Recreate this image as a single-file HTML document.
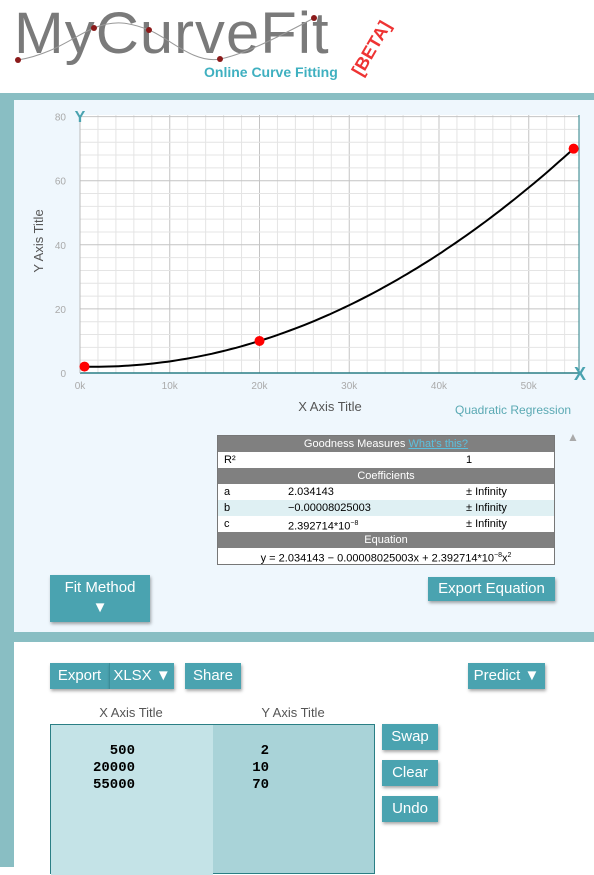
<!DOCTYPE html>
<html><head><meta charset="utf-8"><style>
*{box-sizing:border-box;margin:0;padding:0}
body{width:594px;height:867px;overflow:hidden;background:#fff;font-family:"Liberation Sans",sans-serif;position:relative}
.abs{position:absolute}
.btn{position:absolute;background:#4aa3b0;color:#fff;font-size:15px;text-align:center;box-shadow:1px 2px 3px rgba(0,0,0,.35)}
.tbl{position:absolute;left:217px;top:435px;width:338px;border:1px solid #777;font-size:11px;background:#fff}
.tbl div{height:16px;line-height:16px;position:relative}
.hd{background:#808080;color:#fff;text-align:center}
.c1{position:absolute;left:70px}.c2{position:absolute;left:248px}
</style></head><body>
<div class="abs" style="left:14px;top:4px;width:400px;height:88px">
<div class="abs" style="left:0;top:-4px;font-size:58px;color:#7a7a7a;letter-spacing:1px;transform:scaleX(1.03);transform-origin:left">MyCurveFit</div>
<svg class="abs" style="left:0;top:0" width="400" height="88"><path d="M4,56 C40,50 60,32 80,24 S115,18 135,26 S180,60 206,55 S270,30 300,14" fill="none" stroke="#999" stroke-width="1"/><g fill="#8b1a1a"><circle cx="4" cy="56" r="3"/><circle cx="80" cy="24" r="3"/><circle cx="135" cy="26" r="3"/><circle cx="206" cy="55" r="3"/><circle cx="300" cy="14" r="3"/></g></svg>
<div class="abs" style="left:190px;top:60px;font-size:14px;color:#3fb0c0;font-weight:bold">Online Curve Fitting</div>
<div class="abs" style="left:328px;top:34px;font-size:18px;color:#e33;transform:rotate(-60deg);font-weight:bold">[BETA]</div>
</div>
<div class="abs" style="left:0;top:93px;width:594px;height:7px;background:#89bec3"></div>
<div class="abs" style="left:0;top:93px;width:14px;height:774px;background:#89bec3"></div>
<div class="abs" style="left:14px;top:100px;width:580px;height:532px;background:#eff7fd"></div>
<div class="abs" style="left:14px;top:632px;width:580px;height:10px;background:#89bec3"></div>
<svg class="abs" id="chart" style="left:14px;top:100px" width="580" height="330"></svg>
<div class="abs" style="left:455px;top:403px;font-size:12px;color:#5aa9b3">Quadratic Regression</div>
<div class="abs" style="left:567px;top:430px;font-size:12px;color:#aaa">▲</div>
<div class="tbl">
<div class="hd">Goodness Measures <span style="color:#5bc0de;text-decoration:underline">What's this?</span></div>
<div><span style="margin-left:6px">R²</span><span class="c2">1</span></div>
<div class="hd">Coefficients</div>
<div><span style="margin-left:6px">a</span><span class="c1">2.034143</span><span class="c2">± Infinity</span></div>
<div style="background:#dff0f3"><span style="margin-left:6px">b</span><span class="c1">−0.00008025003</span><span class="c2">± Infinity</span></div>
<div><span style="margin-left:6px">c</span><span class="c1">2.392714*10<sup style="font-size:7px">−8</sup></span><span class="c2">± Infinity</span></div>
<div class="hd">Equation</div>
<div style="text-align:center">y = 2.034143 − 0.00008025003x + 2.392714*10<sup style="font-size:7px">−8</sup>x<sup style="font-size:7px">2</sup></div>
</div>
<div class="btn" style="left:50px;top:575px;width:100px;height:47px;padding-top:3px;line-height:20px">Fit Method<br>▼</div>
<div class="btn" style="left:428px;top:577px;width:127px;height:24px;line-height:24px">Export Equation</div>
<div class="btn" style="left:50px;top:663px;width:59px;height:26px;line-height:26px">Export</div>
<div class="btn" style="left:109px;top:663px;width:65px;height:26px;line-height:26px;border-left:1px solid #3a8e9a">XLSX ▼</div>
<div class="btn" style="left:185px;top:663px;width:56px;height:26px;line-height:26px">Share</div>
<div class="btn" style="left:468px;top:663px;width:77px;height:26px;line-height:26px">Predict ▼</div>
<div class="abs" style="left:50px;top:705px;width:162px;text-align:center;font-size:13px;color:#555">X Axis Title</div>
<div class="abs" style="left:212px;top:705px;width:162px;text-align:center;font-size:13px;color:#555">Y Axis Title</div>
<div class="abs" style="left:50px;top:724px;width:325px;height:150px;border:1px solid #2a7f85;background:#a9d3d8">
<div class="abs" style="left:0;top:0;width:162px;height:150px;background:#c4e3e7"></div>
<pre class="abs" style="left:0;top:18px;width:84px;text-align:right;font:bold 14px/17px 'Liberation Mono',monospace">500
20000
55000</pre>
<pre class="abs" style="left:162px;top:18px;width:56px;text-align:right;font:bold 14px/17px 'Liberation Mono',monospace">2
10
70</pre>
</div>
<div class="btn" style="left:382px;top:724px;width:56px;height:26px;line-height:26px">Swap</div>
<div class="btn" style="left:382px;top:760px;width:56px;height:26px;line-height:26px">Clear</div>
<div class="btn" style="left:382px;top:796px;width:56px;height:26px;line-height:26px">Undo</div>
<script>
const xData=[500,20000,55000];
const yData=[2,10,70];
const coef=[2.034143,-0.00008025003,2.392714e-8];
const xTicks=[0,10000,20000,30000,40000,50000];
const xTickLabels=["0k","10k","20k","30k","40k","50k"];
const yTicks=[0,20,40,60,80];
const xMax=55600, yMax=80.5;
const L=66,R=565,T=15,B=273;
const NS="http://www.w3.org/2000/svg";
const svg=document.getElementById('chart');
const sx=v=>L+v/xMax*(R-L);
const sy=v=>B-v/yMax*(B-T);
function mk(t,a){const e=document.createElementNS(NS,t);for(const k in a)e.setAttribute(k,a[k]);svg.appendChild(e);return e;}
let bg=mk('rect',{x:L,y:T,width:R-L,height:B-T,fill:'#fff'});


for(let v=0;v<=xMax;v+=2000){let g=mk('line',{x1:sx(v),x2:sx(v),y1:T,y2:B,stroke:v%10000?'#e4e4e4':'#c4c4c4'});}
for(let v=0;v<=yMax;v+=4){let g=mk('line',{y1:sy(v),y2:sy(v),x1:L,x2:R,stroke:v%20?'#e4e4e4':'#c4c4c4'});}
let ax=mk('line',{x1:L,x2:R,y1:B,y2:B,stroke:'#2a7f85','stroke-width':1.5});
let ar=mk('line',{x1:R,x2:R,y1:T,y2:B,stroke:'#2a7f85','stroke-width':1});
let al=mk('line',{x1:L,x2:L,y1:T,y2:B,stroke:'#bbb'});
xTicks.forEach((v,i)=>{let t=mk('text',{x:sx(v),y:B+16,'font-size':10,fill:'#aaa','text-anchor':'middle','font-family':'Liberation Sans'});t.textContent=xTickLabels[i];});
yTicks.forEach(v=>{let t=mk('text',{x:L-14,y:sy(v)+4,'font-size':10,fill:'#aaa','text-anchor':'end','font-family':'Liberation Sans'});t.textContent=v;});
let xt=mk('text',{x:316,y:B+38,'font-size':13,fill:'#555','text-anchor':'middle','font-family':'Liberation Sans'});xt.textContent='X Axis Title';
let yt=mk('text',{x:0,y:0,'font-size':13,fill:'#555','text-anchor':'middle','font-family':'Liberation Sans',transform:`translate(29,${(T+B)/2-3}) rotate(-90)`});yt.textContent='Y Axis Title';
let pts=[];for(let i=0;i<=100;i++){const x=xData[0]+(xData[2]-xData[0])*i/100;const y=coef[0]+coef[1]*x+coef[2]*x*x;pts.push(sx(x).toFixed(1)+','+sy(y).toFixed(1));}
let c=mk('polyline',{points:pts.join(' '),fill:'none',stroke:'#000','stroke-width':2});
xData.forEach((x,i)=>{let p=mk('circle',{cx:sx(x),cy:sy(yData[i]),r:5,fill:'#f00'});});
let yi=mk('text',{x:L,y:T+7,'font-size':16,'font-weight':'bold',fill:'#4aa3b0','text-anchor':'middle','font-family':'Liberation Sans'});yi.textContent='Y';
let xi=mk('text',{x:R+1,y:B+7,'font-size':18,'font-weight':'bold',fill:'#4aa3b0','text-anchor':'middle','font-family':'Liberation Sans'});xi.textContent='X';
</script>
</body></html>
